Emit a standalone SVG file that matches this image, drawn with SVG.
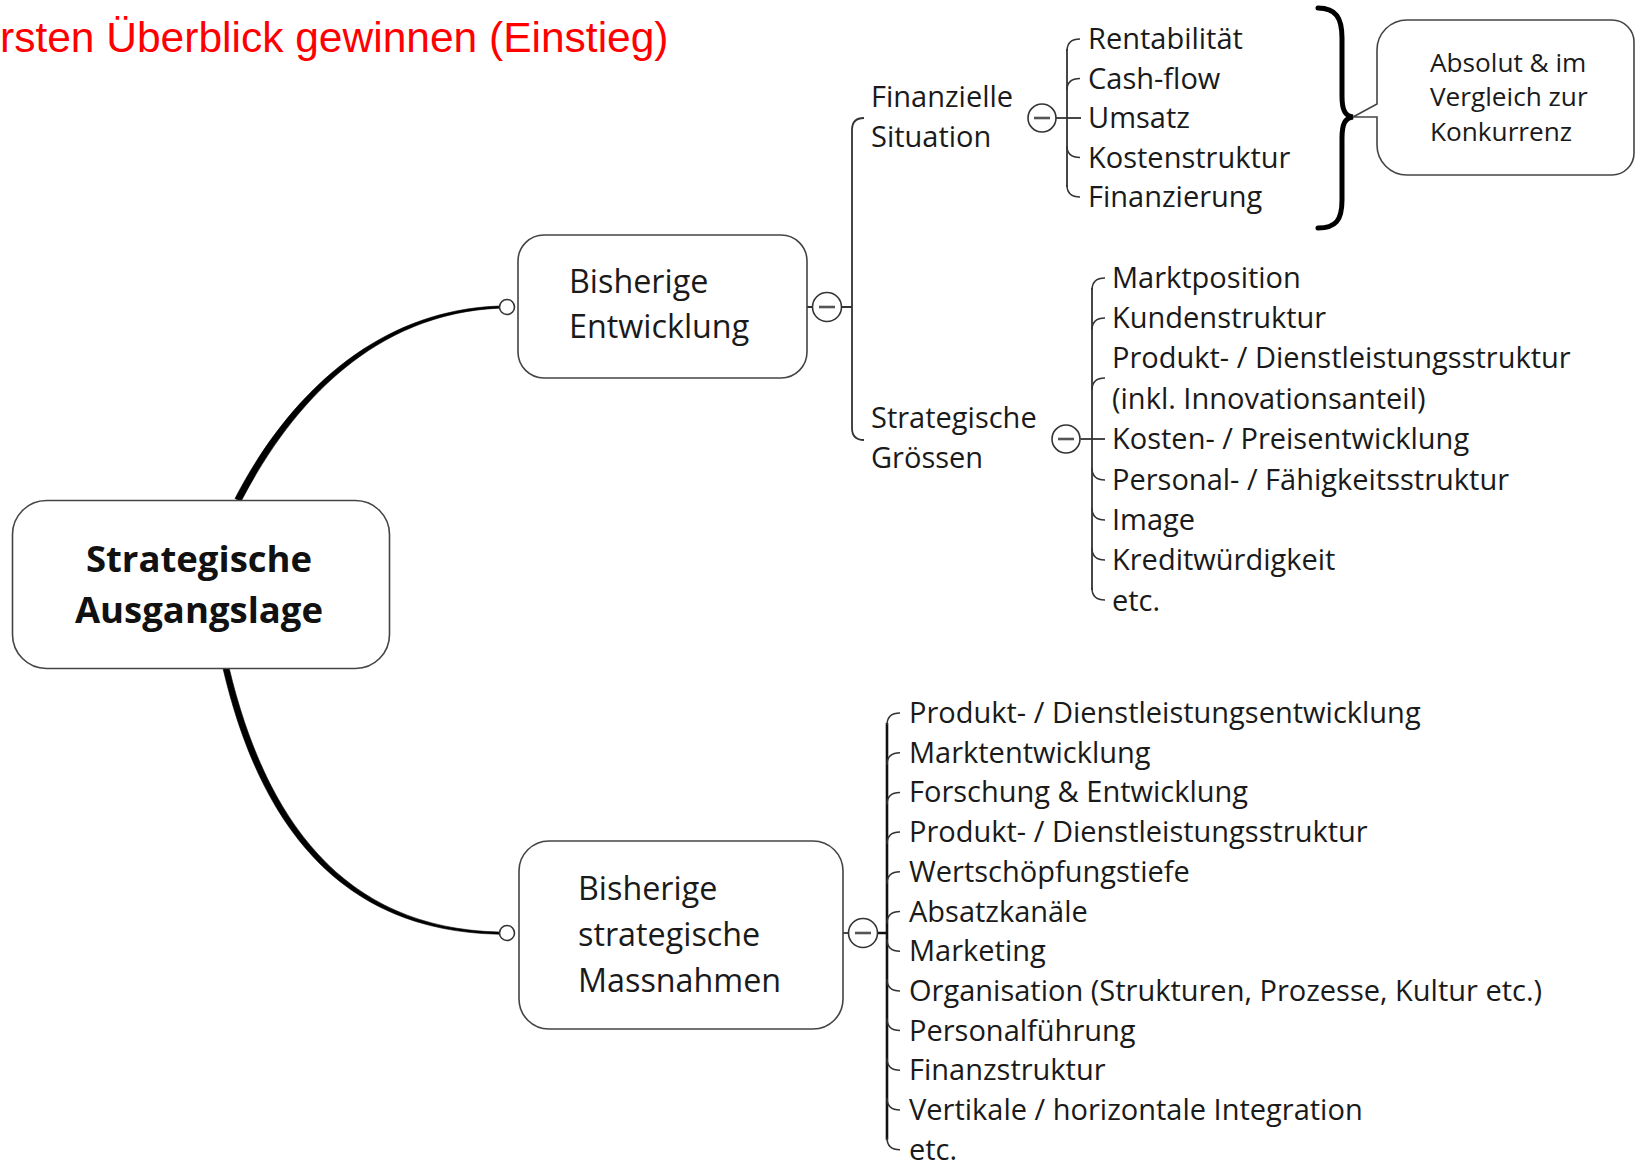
<svg xmlns="http://www.w3.org/2000/svg" width="1636" height="1168" viewBox="0 0 1636 1168">
  <style>
    .box { fill: #fff; stroke: #444; stroke-width: 1.6; }
    .node-text { font-family: "Open Sans", "Liberation Sans", sans-serif; font-size: 32.3px; fill: #1a1a1a; }
    .root-text { font-family: "Open Sans", "Liberation Sans", sans-serif; font-size: 36.5px; font-weight: bold; fill: #111; text-anchor: middle; }
    .item { font-family: "Open Sans", "Liberation Sans", sans-serif; font-size: 29px; fill: #1a1a1a; }
    .note { font-family: "Open Sans", "Liberation Sans", sans-serif; font-size: 26.2px; fill: #1a1a1a; }
    .title { font-family: "Liberation Sans", Arial, sans-serif; font-size: 42.5px; fill: #ff0000; }
    .branch { fill: none; stroke: #333; stroke-width: 1.8; }
    .branch-bold { fill: none; stroke: #111; stroke-width: 2.6; }
    .tick { fill: none; stroke: #333; stroke-width: 1.5; }
    .toggle { fill: #fff; stroke: #333; stroke-width: 1.6; }
    .minus { stroke: #555; stroke-width: 2.6; }
    .port { fill: #fff; stroke: #333; stroke-width: 1.6; }
    .brace { fill: none; stroke: #000; stroke-width: 5; stroke-linecap: round; }
    .trunk { fill: #000; stroke: #000; stroke-width: 0.6; }
  </style>

  <text class="title" x="0" y="52">rsten Überblick gewinnen (Einstieg)</text>

  <!-- connectors -->
  <g id="connectors">
    <!-- tapered trunks from the root -->
    <path class="trunk" d="M 241 501.5 C 293 401, 376 313.5, 499 308.2 L 499 306 C 374 310.5, 287 398, 235 498.5 Z"/>
    <path class="trunk" d="M 223 668.5 C 259 822, 338 931.5, 499 934.2 L 499 932 C 342 928.5, 265 818, 229 667.5 Z"/>

    <!-- Bisherige Entwicklung -> sub-branches -->
    <path class="branch" d="M 807 307 H 813 M 841 307 H 852"/>
    <path class="branch" d="M 864 118 Q 852 118 852 130 V 428 Q 852 440 864 440"/>

    <!-- Finanzielle Situation -> items -->
    <path class="branch" d="M 1056 118 H 1081"/>
    <path class="branch" d="M 1067 49 V 187"/>
    <path class="tick" d="M 1067 51 Q 1067 39 1080 39"/>
    <path class="tick" d="M 1067 90 Q 1067 78.5 1080 78.5"/>
    <path class="tick" d="M 1067 146 Q 1067 157.5 1080 157.5"/>
    <path class="tick" d="M 1067 185 Q 1067 197 1080 197"/>

    <!-- Strategische Grössen -> items -->
    <path class="branch" d="M 1080.5 439 H 1105"/>
    <path class="branch" d="M 1092 288 V 590"/>
    <path class="tick" d="M 1092 290 Q 1092 278 1105 278"/>
    <path class="tick" d="M 1092 330 Q 1092 318 1105 318"/>
    <path class="tick" d="M 1092 390 Q 1092 378 1105 378"/>
    <path class="tick" d="M 1092 468 Q 1092 480 1105 480"/>
    <path class="tick" d="M 1092 508 Q 1092 520 1105 520"/>
    <path class="tick" d="M 1092 548 Q 1092 560 1105 560"/>
    <path class="tick" d="M 1092 588 Q 1092 600 1105 600"/>

    <!-- Bisherige strategische Massnahmen -> items -->
    <path class="branch" d="M 843 933 H 848.5"/>
    <path class="branch-bold" d="M 877.5 933 H 887 M 887 723 V 1139.7"/>
    <path class="tick" d="M 887 725 Q 887 713 900 713"/>
    <path class="tick" d="M 887 764.7 Q 887 752.7 900 752.7"/>
    <path class="tick" d="M 887 804.4 Q 887 792.4 900 792.4"/>
    <path class="tick" d="M 887 844.1 Q 887 832.1 900 832.1"/>
    <path class="tick" d="M 887 883.8 Q 887 871.8 900 871.8"/>
    <path class="tick" d="M 887 923.5 Q 887 911.5 900 911.5"/>
    <path class="tick" d="M 887 939.2 Q 887 951.2 900 951.2"/>
    <path class="tick" d="M 887 978.9 Q 887 990.9 900 990.9"/>
    <path class="tick" d="M 887 1018.6 Q 887 1030.6 900 1030.6"/>
    <path class="tick" d="M 887 1058.3 Q 887 1070.3 900 1070.3"/>
    <path class="tick" d="M 887 1098 Q 887 1110 900 1110"/>
    <path class="tick" d="M 887 1137.7 Q 887 1149.7 900 1149.7"/>

    <!-- brace grouping the financial items -->
    <path class="brace" d="M 1318 8 C 1336 8, 1342 18, 1342 38 L 1342 96 C 1342 110, 1345 116, 1353 117 C 1345 118, 1342 124, 1342 138 L 1342 200 C 1342 220, 1336 228, 1318 228"/>
  </g>

  <!-- root -->
  <g id="root">
    <rect class="box" x="12.5" y="500.5" width="377" height="168" rx="34"/>
    <text class="root-text" x="199" y="572">Strategische</text>
    <text class="root-text" x="199" y="623">Ausgangslage</text>
  </g>

  <!-- Bisherige Entwicklung -->
  <g id="bisherige-entwicklung">
    <circle class="port" cx="507" cy="307" r="7.5"/>
    <rect class="box" x="518" y="235" width="289" height="143" rx="26"/>
    <text class="node-text" x="569" y="293">Bisherige</text>
    <text class="node-text" x="569" y="338">Entwicklung</text>
    <circle class="toggle" cx="827" cy="307" r="14.5"/>
    <line class="minus" x1="819" y1="307" x2="835" y2="307"/>
  </g>

  <!-- Finanzielle Situation -->
  <g id="finanzielle-situation">
    <text class="item" x="871" y="107">Finanzielle</text>
    <text class="item" x="871" y="147">Situation</text>
    <circle class="toggle" cx="1042" cy="118" r="14"/>
    <line class="minus" x1="1034" y1="118" x2="1050" y2="118"/>
  </g>
  <g id="finanz-items">
    <text class="item" x="1088" y="49">Rentabilität</text>
    <text class="item" x="1088" y="88.5">Cash-flow</text>
    <text class="item" x="1088" y="128">Umsatz</text>
    <text class="item" x="1088" y="167.5">Kostenstruktur</text>
    <text class="item" x="1088" y="207">Finanzierung</text>
  </g>

  <!-- callout -->
  <g id="callout">
    <path class="box" d="M 1407 20 H 1612 A 22 22 0 0 1 1634 42 V 153 A 22 22 0 0 1 1612 175 H 1407 A 30 30 0 0 1 1377 145 V 117 L 1353 117 L 1377 104 V 50 A 30 30 0 0 1 1407 20 Z"/>
    <text class="note" x="1430" y="72">Absolut &amp; im</text>
    <text class="note" x="1430" y="106">Vergleich zur</text>
    <text class="note" x="1430" y="141">Konkurrenz</text>
  </g>

  <!-- Strategische Grössen -->
  <g id="strategische-groessen">
    <text class="item" x="871" y="428">Strategische</text>
    <text class="item" x="871" y="468">Grössen</text>
    <circle class="toggle" cx="1066" cy="439" r="14"/>
    <line class="minus" x1="1058" y1="439" x2="1074" y2="439"/>
  </g>
  <g id="groessen-items">
    <text class="item" x="1112" y="288">Marktposition</text>
    <text class="item" x="1112" y="328">Kundenstruktur</text>
    <text class="item" x="1112" y="368">Produkt- / Dienstleistungsstruktur</text>
    <text class="item" x="1112" y="409">(inkl. Innovationsanteil)</text>
    <text class="item" x="1112" y="449">Kosten- / Preisentwicklung</text>
    <text class="item" x="1112" y="490">Personal- / Fähigkeitsstruktur</text>
    <text class="item" x="1112" y="530">Image</text>
    <text class="item" x="1112" y="570">Kreditwürdigkeit</text>
    <text class="item" x="1112" y="611">etc.</text>
  </g>

  <!-- Bisherige strategische Massnahmen -->
  <g id="bisherige-massnahmen">
    <circle class="port" cx="507" cy="933" r="7.5"/>
    <rect class="box" x="519" y="841" width="324" height="188" rx="30"/>
    <text class="node-text" x="578" y="900">Bisherige</text>
    <text class="node-text" x="578" y="946">strategische</text>
    <text class="node-text" x="578" y="992">Massnahmen</text>
    <circle class="toggle" cx="863" cy="933" r="14.5"/>
    <line class="minus" x1="855" y1="933" x2="871" y2="933"/>
  </g>
  <g id="massnahmen-items">
    <text class="item" x="909" y="723">Produkt- / Dienstleistungsentwicklung</text>
    <text class="item" x="909" y="762.7">Marktentwicklung</text>
    <text class="item" x="909" y="802.4">Forschung &amp; Entwicklung</text>
    <text class="item" x="909" y="842.1">Produkt- / Dienstleistungsstruktur</text>
    <text class="item" x="909" y="881.8">Wertschöpfungstiefe</text>
    <text class="item" x="909" y="921.5">Absatzkanäle</text>
    <text class="item" x="909" y="961.2">Marketing</text>
    <text class="item" x="909" y="1000.9">Organisation (Strukturen, Prozesse, Kultur etc.)</text>
    <text class="item" x="909" y="1040.6">Personalführung</text>
    <text class="item" x="909" y="1080.3">Finanzstruktur</text>
    <text class="item" x="909" y="1120">Vertikale / horizontale Integration</text>
    <text class="item" x="909" y="1159.7">etc.</text>
  </g>
</svg>
